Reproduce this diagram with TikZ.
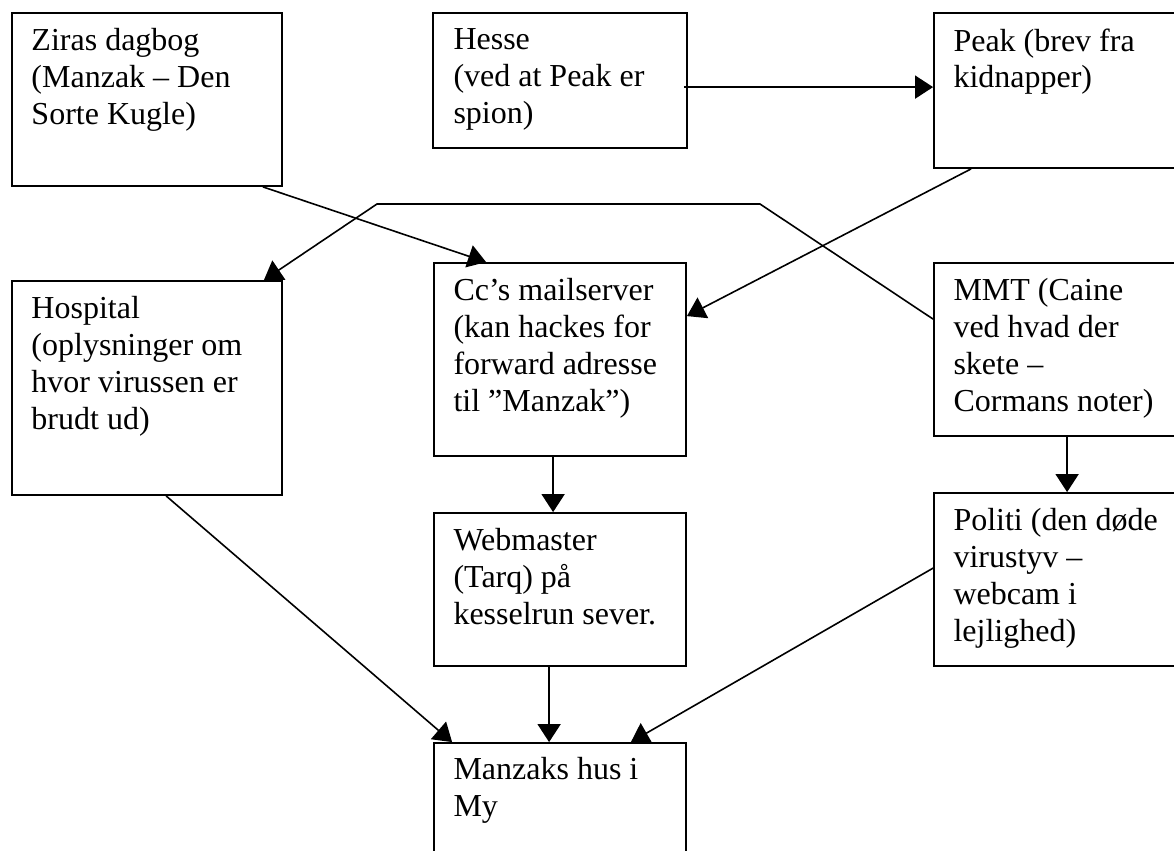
\documentclass[tikz,border=0pt]{standalone}
\usepackage{fontspec}
\setmainfont{Liberation Serif}
\usetikzlibrary{arrows.meta,calc}
\tikzset{
  box/.style={draw, line width=0.9pt, inner sep=0pt, rectangle},
  txt/.style={anchor=north west, inner sep=0pt, align=left,
    font=\fontsize{16}{18.4}\selectfont, execute at begin node=\strut},
  conn/.style={line width=0.8pt, -{Triangle[length=9pt,width=11.5pt]}},
  plain/.style={line width=0.8pt}
}
\begin{document}
\begin{tikzpicture}[x=0.5pt,y=-0.5pt]
\clip (0,0) rectangle (1174,851);
\fill[white] (0,0) rectangle (1174,851);
% boxes (px units; widths/heights in pt = px/2)
\node[box, minimum width=135pt, minimum height=86.5pt] (ziras) at (147,99.5) {};
\node[box, minimum width=127pt, minimum height=67.5pt] (hesse) at (560,80.5) {};
\node[box, minimum width=123pt, minimum height=77.5pt] (peak) at (1057,90.5) {};
\node[box, minimum width=135pt, minimum height=107pt] (hospital) at (147,388) {};
\node[box, minimum width=126pt, minimum height=96.5pt] (cc) at (560,359.5) {};
\node[box, minimum width=123pt, minimum height=86.5pt] (mmt) at (1057,349.5) {};
\node[box, minimum width=126pt, minimum height=76.5pt] (web) at (560,589.5) {};
\node[box, minimum width=123pt, minimum height=86.5pt] (politi) at (1057,579.5) {};
\node[box, minimum width=126pt, minimum height=75pt] (manzak) at (560,818) {};
% texts
\node[txt] (ziras-t) at ($(ziras.north west)+(20,16)$) {Ziras dagbog\\(Manzak – Den\\Sorte Kugle)};
\node[txt] (hesse-t) at ($(hesse.north west)+(21,16)$) {Hesse\\(ved at Peak er\\spion)};
\node[txt] (peak-t) at ($(peak.north west)+(20,16)$) {Peak (brev fra\\kidnapper)};
\node[txt] (hospital-t) at ($(hospital.north west)+(20,16)$) {Hospital\\(oplysninger om\\hvor virussen er\\brudt ud)};
\node[txt] (cc-t) at ($(cc.north west)+(20,16)$) {Cc’s mailserver\\(kan hackes for\\forward adresse\\til ”Manzak”)};
\node[txt] (mmt-t) at ($(mmt.north west)+(20,16)$) {MMT (Caine\\ved hvad der\\skete –\\Cormans noter)};
\node[txt] (web-t) at ($(web.north west)+(20,16)$) {Webmaster\\(Tarq) på\\kesselrun sever.};
\node[txt] (politi-t) at ($(politi.north west)+(20,16)$) {Politi (den døde\\virustyv –\\webcam i\\lejlighed)};
\node[txt] (manzak-t) at ($(manzak.north west)+(20,15)$) {Manzaks hus i\\My};
% connectors
\draw[conn] ($(hesse.north east)+(-4,75)$) -- ($(peak.north west)+(0,75)$);
\draw[conn] ($(ziras.south east)+(-20,0)$) -- ($(cc.north west)+(53,0)$);
\draw[conn] ($(peak.south west)+(38,0)$) -- ($(cc.north east)+(0,54)$);
\coordinate (bendA) at (760,204);
\coordinate (bendB) at (377,204);
\draw[conn] ($(mmt.north west)+(0,57)$) -- (bendA) -- (bendB) -- ($(hospital.north east)+(-19,0)$);
\draw[conn] ($(cc.south west)+(120,0)$) -- ($(web.north west)+(120,0)$);
\draw[conn] ($(mmt.south west)+(134,0)$) -- ($(politi.north west)+(134,0)$);
\draw[conn] ($(hospital.south west)+(155,0)$) -- ($(manzak.north west)+(19,0)$);
\draw[conn] ($(web.south west)+(116,0)$) -- ($(manzak.north west)+(116,0)$);
\draw[conn] ($(politi.north west)+(0,76)$) -- ($(manzak.north east)+(-56,0)$);
\end{tikzpicture}
\end{document}
